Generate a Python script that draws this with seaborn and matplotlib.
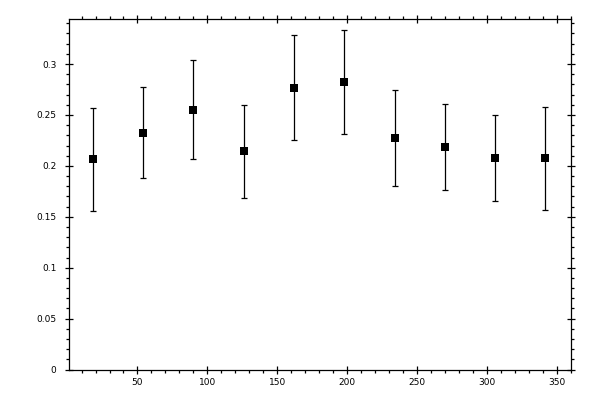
import numpy as np
import pandas as pd
import matplotlib
matplotlib.use("Agg")
import matplotlib.pyplot as plt
from matplotlib.ticker import MultipleLocator, FuncFormatter
import seaborn as sns

sns.set_theme(style="white")
plt.rcParams['font.family'] = ['DejaVu Sans']

# dados
x_vals = [18, 54, 90, 126, 162, 198, 234, 270, 306, 342]
y_vals = [0.2064, 0.2325, 0.2551, 0.2142, 0.2767, 0.2825, 0.2276, 0.2188, 0.2080, 0.2073]
y_err = [0.0504, 0.0447, 0.0485, 0.0454, 0.0515, 0.0510, 0.0470, 0.0422, 0.0422, 0.0505]

df = pd.DataFrame({"x": x_vals, "y": y_vals, "err": y_err})

fig = plt.figure(figsize=(6, 4), dpi=100)
ax = fig.add_axes([0.115, 0.076, 0.836, 0.876])

ax.errorbar(df["x"], df["y"], yerr=df["err"], fmt="none", ecolor="black",
            elinewidth=0.9, capsize=2.0, capthick=0.9)
sns.scatterplot(data=df, x="x", y="y", marker="s", s=28, color="black",
                edgecolor="black", linewidth=0, ax=ax, zorder=3)

ax.set_xlim(1, 360)
ax.set_ylim(0, 0.344)
ax.set_xlabel("")
ax.set_ylabel("")

ax.xaxis.set_major_locator(MultipleLocator(50))
ax.xaxis.set_minor_locator(MultipleLocator(10))
ax.yaxis.set_major_locator(MultipleLocator(0.05))
ax.yaxis.set_minor_locator(MultipleLocator(0.01))
fmt = FuncFormatter(lambda v, p: "%g" % round(v, 3))
ax.xaxis.set_major_formatter(fmt)
ax.yaxis.set_major_formatter(fmt)

for s in ax.spines.values():
    s.set_color("black")
    s.set_linewidth(0.9)

ax.tick_params(which="major", direction="inout", length=6, width=0.9, color="black",
               bottom=True, left=True, top=True, right=True,
               labelsize=6.5, labelcolor="black", pad=3)
ax.tick_params(which="minor", direction="out", length=2.5, width=0.9, color="black",
               bottom=True, left=True, top=True, right=True)
ax.tick_params(axis="y", which="major", pad=6)

fig.savefig("out.png", dpi=100)
